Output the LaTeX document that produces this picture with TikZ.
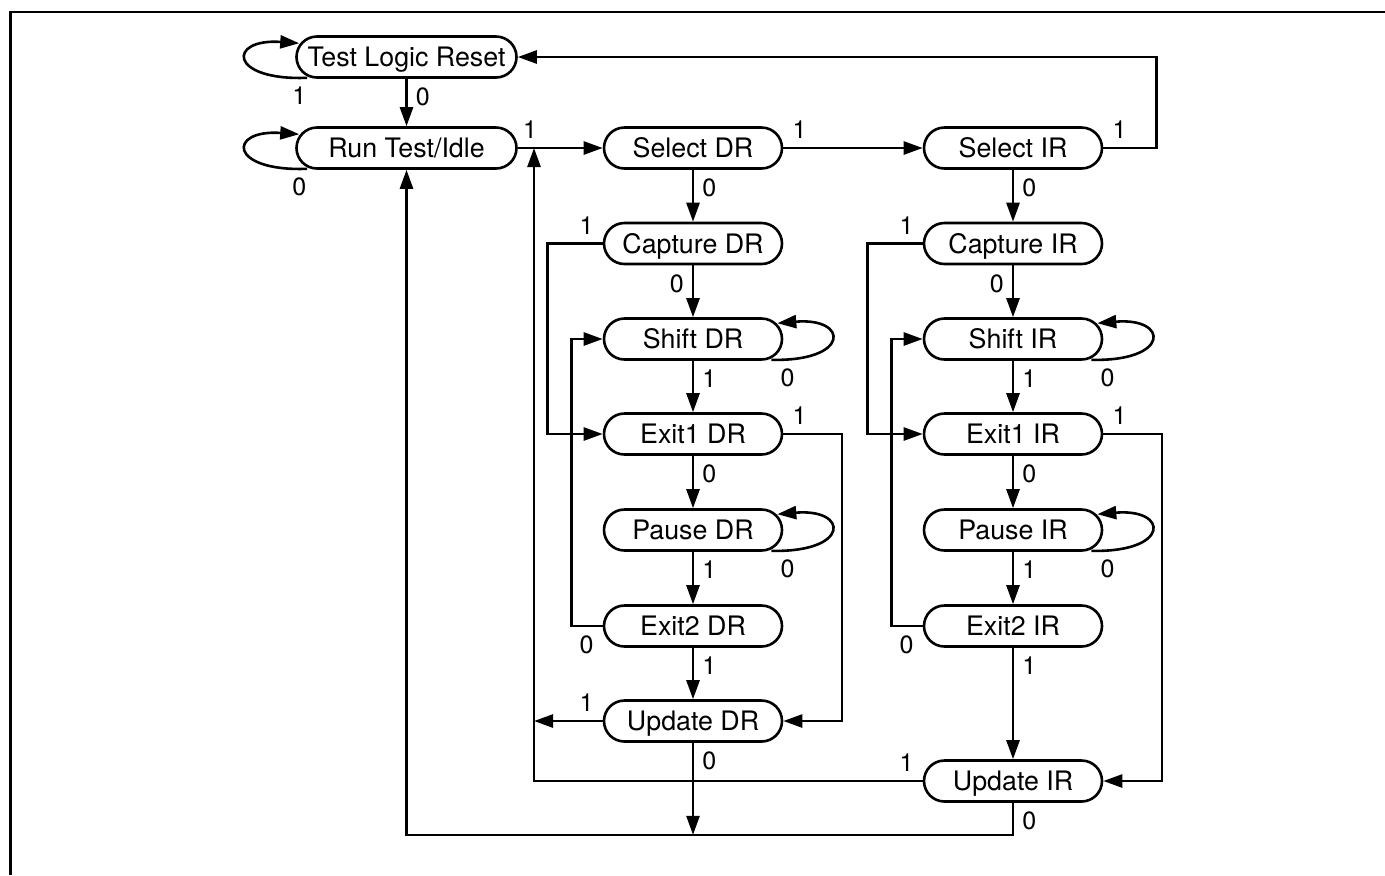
\documentclass[tikz,border=0pt]{standalone}
\usepackage{fontspec}
\setmainfont{TeX Gyre Heros}
\usetikzlibrary{arrows.meta,calc}

\tikzset{
  state/.style={draw, rounded corners=10.25pt, minimum width=89pt, minimum height=20.5pt,
    inner sep=0pt, text height=9.6pt, text depth=0pt, font=\fontsize{13.4}{13.4}\selectfont},
  lbl/.style={inner sep=4pt, font=\fontsize{12.5}{12.5}\selectfont},
}

\begin{document}
\begin{tikzpicture}[x=0.5pt, y=-0.5pt, line width=1.3pt, >={Triangle[length=9.5pt,width=6.5pt]}]
	\useasboundingbox (0,0) rectangle (1385,875);
	\draw (10.5,875) -- (10.5,12) -- (1385,12);

	\node[state, minimum width=110pt] (tlr) at (406.5,57) {Test Logic Reset};
	\node[state, minimum width=110pt] (rti) at (406.5,148) {Run Test/Idle};
	\coordinate (jn) at (534,148);

	% the two columns
	\foreach \r/\x/\u in {DR/693/721, IR/1013/781}{
		\node[state] (sel\r)   at (\x,148)   {Select \r};
		\node[state] (cap\r)   at (\x,243.5) {Capture \r};
		\node[state] (shift\r) at (\x,339)   {Shift \r};
		\node[state] (exa\r)   at (\x,434)   {Exit1 \r};
		\node[state] (pause\r) at (\x,530)   {Pause \r};
		\node[state] (exb\r)   at (\x,626)   {Exit2 \r};
		\node[state] (upd\r)   at (\x,\u)    {Update \r};

		\draw[->] (sel\r.south) node[lbl,below right]{0} -- (cap\r.north);
		\draw[->] (cap\r.south) node[lbl,below left]{0} -- (shift\r.north);
		\draw[->] (shift\r.south) node[lbl,below right]{1} -- (exa\r.north);
		\draw[->] (exa\r.south) node[lbl,below right]{0} -- (pause\r.north);
		\draw[->] (pause\r.south) node[lbl,below right]{1} -- (exb\r.north);
		\draw[->] (exb\r.south) node[lbl,below right]{1} -- (upd\r.north);

		\draw[->] (cap\r.west) node[lbl,above left]{1} -- ++(-55,0) |- (exa\r.west);
		\draw[->] (exb\r.west) node[lbl,below left]{0} -- ++(-31,0) |- (shift\r.west);
		\draw[->] (exa\r.east) node[lbl,above right]{1} -- ++(58.5,0) |- (upd\r.east);

		\draw[->] ($(shift\r.south east)+(-12,-1)$) node[lbl,below right]{0}
			.. controls +(79,2) and +(72,-6) .. ($(shift\r.north east)+(-6,6)$);
		\draw[->] ($(pause\r.south east)+(-12,-1)$) node[lbl,below right]{0}
			.. controls +(79,2) and +(72,-6) .. ($(pause\r.north east)+(-6,6)$);
	}

	\draw[->] ($(tlr.south west)+(12,-1)$) node[lbl,below,xshift=-4pt]{1}
		.. controls +(-79,3) and +(-72,-5) .. ($(tlr.north west)+(4,8)$);
	\draw[->] ($(rti.south west)+(12,-1)$) node[lbl,below,xshift=-4pt]{0}
		.. controls +(-79,3) and +(-72,-5) .. ($(rti.north west)+(4,8)$);
	\draw[->] (tlr.south) node[lbl,below right]{0} -- (rti.north);

	\draw[->] (rti.east) node[lbl,above right,xshift=-2pt]{1} -- (selDR.west);
	\draw[->] (selDR.east) node[lbl,above right]{1} -- (selIR.west);
	\draw[->] (selIR.east) node[lbl,above right]{1} -- ++(53,0) |- (tlr.east);

	\draw[->] (updIR.south) node[lbl,below right]{0} -- ++(0,32) coordinate (bot) -| (rti.south);
	\draw[->] (updDR.south) node[lbl,below right]{0} -- (updDR.south |- bot);
	\draw[->] (updDR.west) node[lbl,above left]{1} -- (updDR.west -| jn);
	\draw[->] (updIR.west) node[lbl,above left]{1} -| (jn);
\end{tikzpicture}
\end{document}
